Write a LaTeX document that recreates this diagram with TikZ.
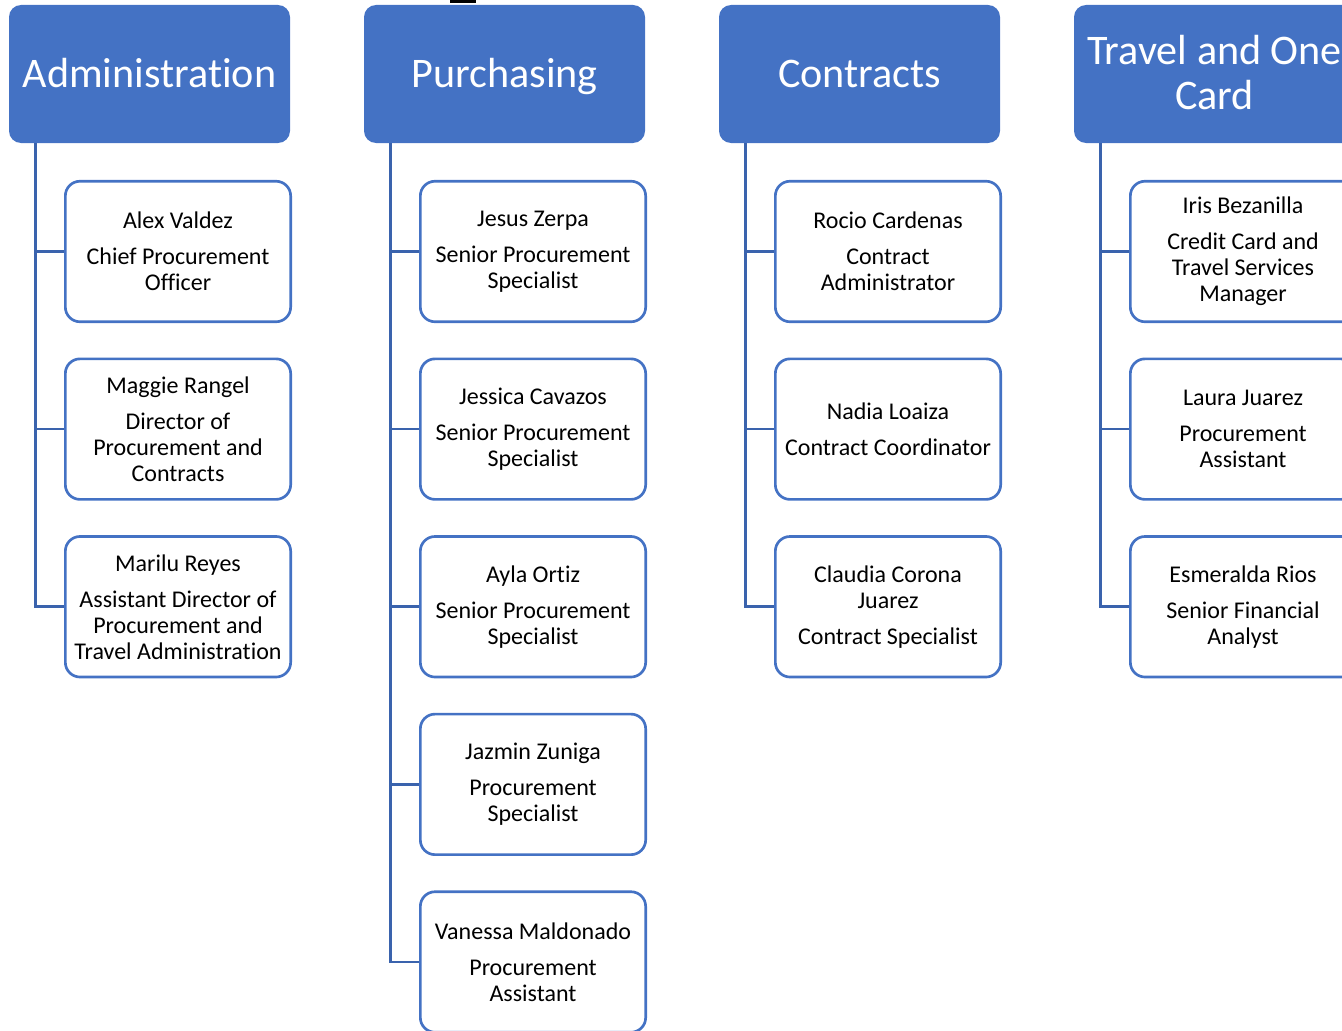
\documentclass[tikz,border=0pt]{standalone}
\usepackage{fontspec}
\setmainfont{Carlito}[Ligatures=NoCommon]
\definecolor{headblue}{HTML}{4472C4}
\definecolor{linkblue}{HTML}{3A63AD}
\newcommand{\gap}{7.5pt}

\begin{document}
\begin{tikzpicture}[x=0.75pt,y=-0.75pt,
  head/.style={fill=headblue,rounded corners=9pt,text=white,inner sep=0pt,
    minimum width=210.75pt,minimum height=103.5pt,align=center,
    font=\fontsize{31.6}{34}\selectfont},
  member/.style={draw=headblue,line width=2pt,fill=white,rounded corners=11pt,
    inner sep=0pt,minimum width=169pt,minimum height=105.4pt,align=center,
    font=\fontsize{18}{19.5}\selectfont},
  link/.style={draw=linkblue,line width=2pt}]
\useasboundingbox (0,0) rectangle (1342,1031);
\clip (0,0) rectangle (1342,1031);
\fill[black] (450,0) rectangle (476,3);
% Department headers
\foreach \c/\txt in {1/Administration, 2/Purchasing, 3/Contracts, 4/{Travel and One\\Card}} {
  \node[head] (h\c) at ({149.5+355*(\c-1)},74) {\rule{0pt}{29.8pt}\txt\strut};
}
% Staff boxes
\foreach \c/\r/\txt in {
  1/1/{Alex Valdez\\[\gap]Chief Procurement\\Officer},
  1/2/{Maggie Rangel\\[\gap]Director of\\Procurement and\\Contracts},
  1/3/{Marilu Reyes\\[\gap]Assistant Director of\\Procurement and\\Travel Administration},
  2/1/{Jesus Zerpa\\[\gap]Senior Procurement\\Specialist},
  2/2/{Jessica Cavazos\\[\gap]Senior Procurement\\Specialist},
  2/3/{Ayla Ortiz\\[\gap]Senior Procurement\\Specialist},
  2/4/{Jazmin Zuniga\\[\gap]Procurement\\Specialist},
  2/5/{Vanessa Maldonado\\[\gap]Procurement\\Assistant},
  3/1/{Rocio Cardenas\\[\gap]Contract\\Administrator},
  3/2/{Nadia Loaiza\\[\gap]Contract Coordinator},
  3/3/{Claudia Corona\\Juarez\\[\gap]Contract Specialist},
  4/1/{Iris Bezanilla\\[\gap]Credit Card and\\Travel Services\\Manager},
  4/2/{Laura Juarez\\[\gap]Procurement\\Assistant},
  4/3/{Esmeralda Rios\\[\gap]Senior Financial\\Analyst}} {
  \node[member] (m\c\r) at ({178+355*(\c-1)},{251.5+177.625*(\r-1)}) {\txt};
}
% Connectors
\foreach \c/\n in {1/3, 2/5, 3/3, 4/3} {
  \foreach \r in {1,...,\n} {
    \draw[link] ([xshift=20.25pt]h\c.south west) |- (m\c\r.west);
  }
}
\end{tikzpicture}
\end{document}
